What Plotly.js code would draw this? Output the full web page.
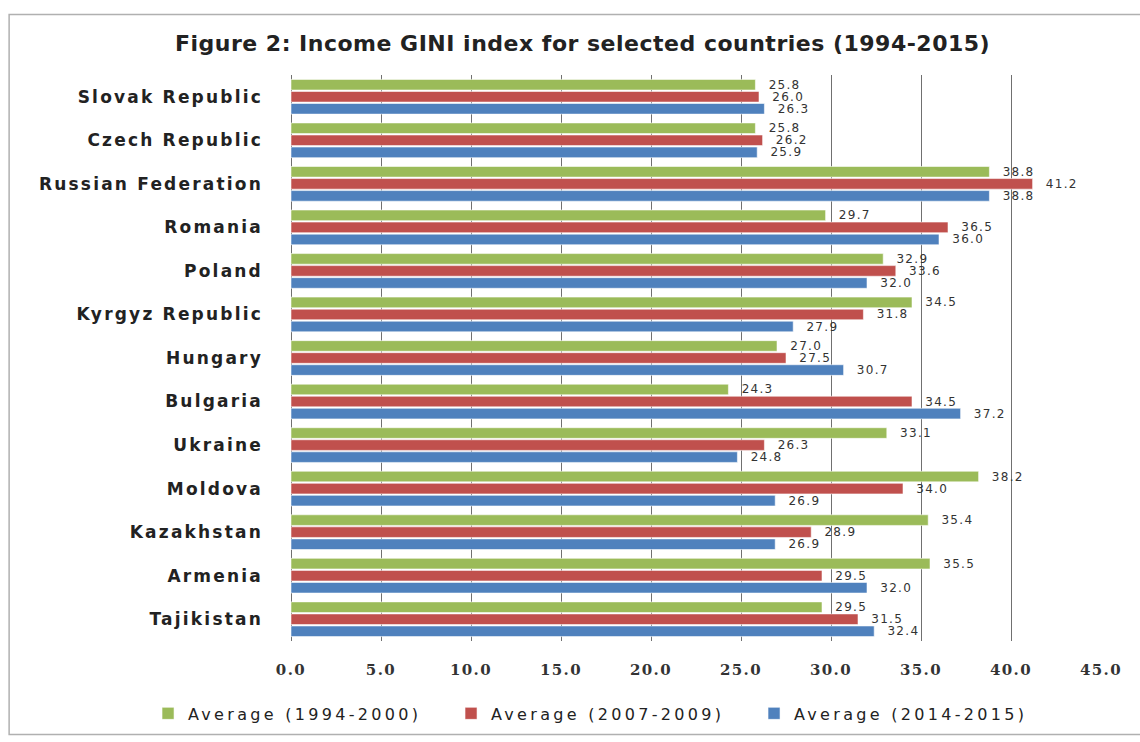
<!DOCTYPE html>
<html>
<head>
<meta charset="utf-8">
<script src="https://cdn.plot.ly/plotly-3.0.1.min.js"></script>
<style>
  html, body { margin: 0; padding: 0; background: #fff; }
  #chart { width: 1140px; height: 742px; }
  .gtitle { letter-spacing: 0.5px; }
  .ytick text { letter-spacing: 2.2px; }
  .xtick text { letter-spacing: 1.4px; }
  .legendtext { letter-spacing: 3.3px; }
  .bartext { letter-spacing: 1.3px; }
</style>
</head>
<body>
<div id="chart"></div>
<script>
// Countries, top to bottom
const countries = [
  "Slovak Republic", "Czech Republic", "Russian Federation", "Romania",
  "Poland", "Kyrgyz Republic", "Hungary", "Bulgaria", "Ukraine",
  "Moldova", "Kazakhstan", "Armenia", "Tajikistan"
];

// Average income Gini index per period
const avg1994_2000 = [25.8, 25.8, 38.8, 29.7, 32.9, 34.5, 27.0, 24.3, 33.1, 38.2, 35.4, 35.5, 29.5];
const avg2007_2009 = [26.0, 26.2, 41.2, 36.5, 33.6, 31.8, 27.5, 34.5, 26.3, 34.0, 28.9, 29.5, 31.5];
const avg2014_2015 = [26.3, 25.9, 38.8, 36.0, 32.0, 27.9, 30.7, 37.2, 24.8, 26.9, 26.9, 32.0, 32.4];

const seriesNames = ["Average (1994-2000)", "Average (2007-2009)", "Average (2014-2015)"];
const xTicks = [0, 5, 10, 15, 20, 25, 30, 35, 40, 45];

const colors = ["#9BBB59", "#C0504D", "#4F81BD"];
const seriesValues = [avg1994_2000, avg2007_2009, avg2014_2015];

const traces = seriesValues.map((vals, i) => ({
  type: "bar",
  orientation: "h",
  name: seriesNames[i],
  y: countries,
  x: vals,
  marker: { color: colors[i], line: { color: "rgba(255,255,255,0.55)", width: 1 } },
  texttemplate: "\u00a0\u00a0%{x:.1f}",
  textposition: "outside",
  constraintext: "none",
  cliponaxis: false,
  textfont: { family: "DejaVu Sans", size: 12, color: "#333" },
  hoverinfo: "skip"
}));

const layout = {
  width: 1140,
  height: 742,
  margin: { l: 291, r: 39, t: 75, b: 97 },
  paper_bgcolor: "#fff",
  plot_bgcolor: "#fff",
  barmode: "group",
  bargap: 0.17,
  bargroupgap: 0.12,
  title: {
    text: "Figure 2: Income GINI index for selected countries (1994-2015)",
    font: { family: "DejaVu Sans", size: 22, color: "#222", weight: "bold" },
    x: 0.511, xanchor: "center",
    y: 0.942, yanchor: "middle"
  },
  xaxis: {
    range: [0, 45],
    tickvals: xTicks,
    ticktext: xTicks.map(v => v.toFixed(1)),
    showgrid: true,
    gridcolor: "#707070",
    gridwidth: 1,
    zeroline: true,
    zerolinecolor: "#707070",
    zerolinewidth: 1,
    showline: false,
    ticks: "",
    ticklabelstandoff: 18,
    tickfont: { family: "DejaVu Serif", size: 15, color: "#333", weight: "bold" }
  },
  yaxis: {
    autorange: "reversed",
    showgrid: false,
    zeroline: false,
    showline: false,
    ticks: "",
    ticklabelstandoff: 27,
    tickfont: { family: "DejaVu Sans", size: 17, color: "#222", weight: "bold" }
  },
  legend: {
    orientation: "h",
    x: -0.1765, xanchor: "left",
    y: -0.128, yanchor: "middle",
    font: { family: "DejaVu Sans", size: 16, color: "#222" },
    itemwidth: 30,
    entrywidth: 258,
    entrywidthmode: "pixels",
    traceorder: "normal"
  },
  shapes: [
    {
      type: "rect", xref: "paper", yref: "paper",
      x0: -0.348, x1: 1.4, y0: -0.165, y1: 1.107,
      line: { color: "#b0b0b0", width: 1.5 },
      fillcolor: "rgba(0,0,0,0)", layer: "below"
    }
  ],
  showlegend: true
};

Plotly.newPlot("chart", traces, layout, { displayModeBar: false, staticPlot: true });
</script>
</body>
</html>
